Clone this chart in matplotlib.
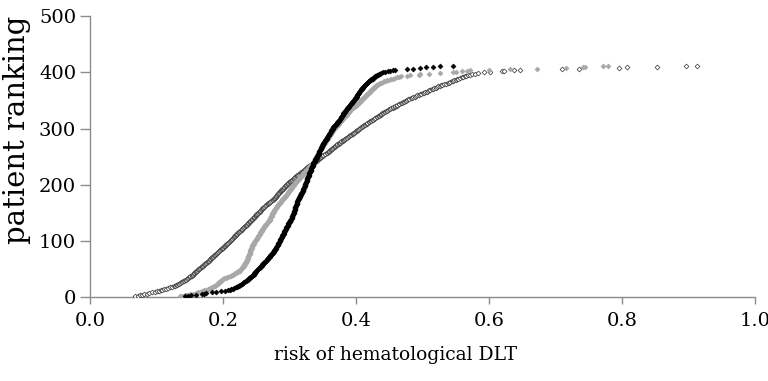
import numpy as np
import matplotlib
matplotlib.use("Agg")
import matplotlib.pyplot as plt

# sorted risk of hematological DLT per patient (in 1/1000), one value per patient rank
blackRisk = [
    143, 147, 152, 160, 168, 172, 175, 183, 190, 197, 203, 207, 210,
    212, 215, 217, 219, 221,
    222, 224, 225, 226, 228, 229,
    230, 231, 232, 234, 235, 236,
    237, 238, 239, 240, 241, 242, 243, 244, 245, 246,
    246, 247, 248, 248, 249, 250, 250, 251,
    252, 253, 254, 255, 255, 256, 257, 258, 259,
    259, 260, 261, 261, 262, 263, 264, 265, 266,
    266, 267, 268, 268, 269, 270, 270, 271, 272, 273, 273, 274,
    275, 275, 276, 276, 277, 278, 278, 279, 279, 280, 280, 281,
    281, 282, 282, 282, 283, 283, 284, 284, 285, 285, 286, 286,
    286, 287, 287, 288, 288, 288, 289, 289, 290, 290, 291, 291,
    291, 292, 292, 293, 293, 293, 294, 294, 295, 295, 296, 296, 297, 297,
    297, 298, 298, 299, 299, 300, 300, 301, 301, 302, 302, 303,
    303, 303, 304, 304, 304, 305, 305, 305, 306, 306, 306, 307, 307, 307, 308,
    308, 308, 309, 309, 309, 309, 310, 310, 310, 311, 311, 311, 311, 312, 312, 312, 313, 313,
    313, 314, 314, 315, 315, 316, 316, 316, 317, 317, 318, 318, 319, 319, 320, 320, 321, 321,
    321, 321, 322, 322, 322, 323, 323, 323, 324, 324, 324, 325, 325, 325, 326, 326, 326, 327, 327,
    327, 327, 328, 328, 328, 329, 329, 329, 330, 330, 330, 331, 331, 331,
    332, 332, 332, 333, 333, 333, 334, 334, 334, 335, 335, 335, 336, 336,
    336, 337, 337, 338, 338, 339, 339, 340, 340, 341, 341, 342, 342, 342, 343, 343, 344, 344,
    344, 345, 345, 345, 346, 346, 347, 347, 347, 348, 348, 349, 349, 349, 350, 350, 351, 351,
    352, 352, 353, 353, 354, 355, 355, 356, 356, 357, 357, 358, 358, 359, 359, 360,
    360, 361, 361, 362, 362, 363, 363, 364, 364, 365, 365, 366, 366, 367,
    368, 369, 369, 370, 371, 371, 372, 373, 374, 374, 375, 376,
    376, 377, 377, 378, 378, 379, 379, 380, 380, 381, 381, 382, 383, 383, 384, 384, 385,
    386, 386, 387, 388, 388, 389, 390, 390, 391, 392, 392, 393,
    394, 394, 395, 396, 396, 397, 398, 398, 399, 400, 400, 401,
    401, 402, 402, 403, 403, 404, 404, 405, 405, 406, 407, 407, 408,
    409, 409, 410, 411, 412, 412, 413, 414, 415, 415, 416,
    417, 418, 419, 420, 421, 422, 423, 425, 426,
    427, 428, 429, 430, 432, 433,
    435, 436, 438,
    441, 444, 448, 451, 455, 458,
    476, 486, 496, 505, 516, 526, 546,
]

grayRisk = [
    135, 139, 143, 146, 150, 155, 160, 163, 166, 168,
    170, 172, 175, 177, 179, 181, 183, 185, 187, 188, 190,
    190, 191, 192, 193, 194, 195, 196, 197, 198, 199, 200,
    202, 204, 206, 208, 210,
    212, 213, 215, 216, 218, 219, 221, 222, 223, 225, 226,
    227, 227, 228, 229, 229, 230, 231, 231, 232,
    232, 233, 233, 234, 234, 235, 235, 236, 236,
    236, 237, 237, 237, 238, 238, 238, 239, 239, 239, 240, 240,
    240, 241, 241, 241, 241, 242, 242, 242, 242, 243, 243, 243,
    244, 244, 245, 245, 246, 246, 247, 247, 248, 248,
    249, 249, 250, 251, 251, 252, 252, 253,
    253, 254, 254, 255, 255, 256, 256, 257, 257, 258, 258, 259, 259, 260, 260, 261, 261,
    262, 263, 263, 264, 265, 266, 266, 267, 268, 268, 269, 270,
    270, 271, 271, 271, 272, 272, 272, 273, 273, 273, 274, 274,
    275, 275, 276, 276, 277, 277, 278, 278, 279, 279, 280,
    281, 281, 282, 283, 283, 284, 285, 285, 286, 287, 287, 288, 288,
    289, 290, 291, 291, 292, 293, 294, 294, 295, 296, 296, 297,
    298, 298, 299, 299, 300, 301, 301, 302, 302, 303, 304, 304, 305, 305, 306,
    307, 308, 308, 309, 310, 311, 311, 312, 313, 314, 314, 315, 316,
    317, 317, 318, 319, 320, 320, 321, 322, 323, 323, 324, 325, 326,
    327, 327, 328, 329, 330, 330, 331, 332, 333, 333, 334, 335,
    335, 336, 336, 337, 337, 338, 338, 339, 339, 340, 340, 341,
    341, 342, 342, 343, 343, 343, 344, 344, 345, 345, 346, 346,
    347, 347, 348, 348, 349, 349, 350, 351, 351, 352, 352, 353, 353, 354, 354, 355, 355, 356,
    357, 357, 358, 358, 359, 359, 360, 361, 361, 362, 362, 363, 363, 364, 364, 365, 365, 366,
    367, 367, 368, 369, 370, 370, 371, 372, 373, 373, 374, 375, 376, 376, 377, 378, 378,
    379, 380, 381, 381, 382, 383, 384, 384, 385, 386, 387, 387, 388, 389, 389, 390, 391, 391,
    392, 393, 394, 395, 396, 397, 398, 400, 401,
    402, 402, 403, 404, 405, 406, 406, 407, 408, 409, 410, 410, 411, 412, 413,
    414, 415, 416, 416, 417, 418, 419, 420, 421, 422, 423, 423, 424, 425, 426,
    427, 428, 429, 430, 431, 432, 433, 435, 436,
    438, 440, 442, 445, 447, 450,
    453, 456, 459, 462, 465, 467,
    476, 481, 494, 496, 510, 526, 546, 551, 560, 567, 571, 600, 631, 672, 716, 741, 745, 771, 779,
]

openRisk = [
    68, 72, 75, 78, 81, 85, 89, 93, 97, 100,
    103, 106, 109, 112, 115, 118, 121, 124,
    126, 128, 130, 131, 133, 134,
    136, 137, 139, 140, 142, 143, 144, 146, 147,
    148, 149, 150, 151, 153, 154, 155,
    156, 157, 157, 158, 159, 160, 161, 162,
    163, 164, 165, 166, 167, 168, 169, 170, 171, 172, 173, 174,
    175, 176, 177, 178, 179, 180, 181, 181, 182, 183, 184, 185,
    186, 187, 188, 189, 190, 191, 191, 192, 193, 194, 195, 196, 197,
    198, 199, 200, 201, 202, 203, 204, 205, 205, 206, 207, 208, 209, 210,
    211, 212, 212, 213, 214, 215, 216, 216, 217, 218, 219, 220, 220, 221, 222,
    223, 224, 225, 226, 227, 228, 229, 229, 230, 231, 232, 233, 234, 235,
    236, 237, 237, 238, 239, 240, 241, 241, 242, 243, 244, 245,
    246, 247, 247, 248, 249, 250, 250, 251, 252, 253,
    254, 255, 255, 256, 257, 258, 258, 259, 260, 261,
    262, 263, 264, 265, 266, 267, 268, 269, 270, 271, 272, 273, 275,
    276, 276, 277, 278, 279, 279, 280, 281, 281, 282, 283, 283, 284,
    285, 286, 287, 287, 288, 289, 290, 291, 291, 292, 293, 294, 294, 295,
    296, 297, 298, 299, 300, 301, 302, 303, 304, 305, 306, 307, 308, 309, 310, 311, 312, 313, 314, 316,
    317, 318, 319, 320, 321, 322, 323, 324, 325, 326, 327, 328, 329, 330, 331, 333, 334, 336,
    337, 338, 339, 340, 341, 342, 343, 344, 345, 346, 347, 348, 349, 350, 351, 353, 354, 356,
    357, 358, 359, 360, 361, 362, 363, 364, 365, 366, 367, 368, 369, 370, 371, 372, 374, 375,
    376, 377, 378, 380, 381, 382, 383, 384, 385, 387, 388, 389, 390, 391, 392, 394,
    395, 396, 397, 399, 400, 401, 402, 403, 404, 405, 406, 407, 409, 410,
    411, 412, 414, 415, 416, 417, 419, 420, 421, 423, 424, 426,
    427, 428, 429, 431, 432, 433, 434, 436, 437, 438, 439, 440, 442, 443,
    445, 446, 448, 450, 451, 453, 455, 456, 458, 459, 461, 462,
    464, 465, 467, 469, 470, 472, 473, 475, 476, 478,
    480, 482, 484, 486, 488, 490, 492, 494,
    496, 498, 500, 502, 504, 506, 508, 510,
    512, 514, 516, 518, 520, 522, 523,
    526, 528, 530, 533, 535, 538,
    540, 542, 544, 546, 548, 550,
    552, 554, 557, 559, 561,
    564, 566, 569, 572,
    575, 579, 583, 592, 602,
    620, 622, 638, 647, 710, 736, 796, 808, 853, 896, 913,
]

xTicks = [0.0, 0.2, 0.4, 0.6, 0.8, 1.0]
yTicks = [0, 100, 200, 300, 400, 500]

plt.rcParams['font.family'] = ['DejaVu Serif']

fig = plt.figure(figsize=(7.68, 3.81), dpi=100)
ax = fig.add_axes([0.1172, 0.2205, 0.8659, 0.7367])

series = [
    (openRisk, 'white', '#333333'),
    (grayRisk, '#a8a8a8', '#a8a8a8'),
    (blackRisk, 'black', 'black'),
]
for risk, face, edge in series:
    x = np.array(risk) / 1000
    rank = np.arange(1, len(x) + 1)
    ax.scatter(x, rank, marker='D', s=6, facecolors=face, edgecolors=edge,
               linewidths=0.5, zorder=3)

ax.set_xlim(0, 1.0)
ax.set_ylim(0, 500)
ax.set_xticks(xTicks)
ax.set_xticklabels([f"{v:.1f}" for v in xTicks])
ax.set_yticks(yTicks)

for s in ['top', 'right']:
    ax.spines[s].set_visible(False)
for s in ['left', 'bottom']:
    ax.spines[s].set_color('#8c8c8c')
    ax.spines[s].set_linewidth(1.0)

ax.tick_params(axis='x', direction='out', length=5, width=1, color='#8c8c8c',
               labelsize=14, pad=6)
ax.tick_params(axis='y', direction='out', length=7, width=1, color='#8c8c8c',
               labelsize=14, pad=3)

fig.text(17 / 768, 1 - 130 / 381, "patient ranking", rotation=90,
         ha='center', va='center', fontsize=21)
fig.text(395 / 768, 1 - 355 / 381, "risk of hematological DLT",
         ha='center', va='center', fontsize=13.5)

fig.savefig("out.png", dpi=100)
